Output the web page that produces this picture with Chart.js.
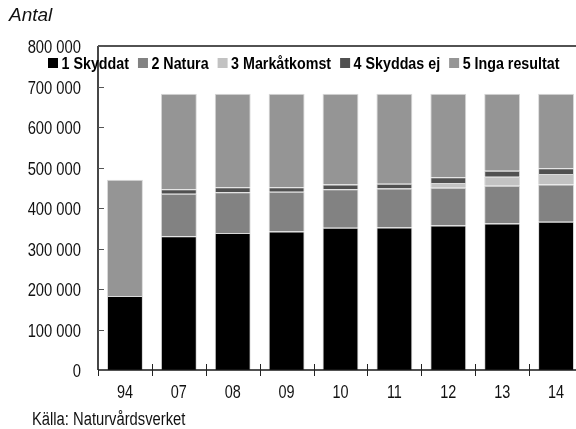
<!DOCTYPE html>
<html>
<head>
<meta charset="utf-8">
<script src="https://cdn.jsdelivr.net/npm/chart.js@4/dist/chart.umd.min.js"></script>
<style>
  html, body { margin: 0; padding: 0; background: #fff; overflow: hidden; }
  #wrap { position: relative; width: 600px; height: 429px; }
</style>
</head>
<body>
<div id="wrap"><canvas id="chart"></canvas></div>
<script>
const years = ['94', '07', '08', '09', '10', '11', '12', '13', '14'];
const skyddat = [183000, 330000, 338000, 342000, 351000, 352000, 357000, 362000, 366000];
const natura = [0, 105000, 101000, 98000, 95000, 96000, 93000, 93000, 92000];
const markatkomst = [0, 0, 0, 0, 0, 0, 12000, 22000, 26000];
const skyddasEj = [0, 11000, 12000, 11000, 12000, 12000, 14000, 15000, 14000];
const ingaResultat = [287000, 236000, 231000, 231000, 224000, 222000, 206000, 190000, 184000];

const SANS = "'Liberation Sans', Arial, sans-serif";
const fmt = v => String(v).replace(/\B(?=(\d{3})+(?!\d))/g, ' ');

// Liberation Sans squeezed sideways to look like a condensed face
function narrowText(ctx, text, x, y, align, k = 0.82) {
    const w = ctx.measureText(text).width * k;
    let sx = x;
    if (align === 'right') sx = x - w;
    else if (align === 'center') sx = x - w / 2;
    ctx.save();
    ctx.translate(sx, y);
    ctx.scale(k, 1);
    ctx.fillText(text, 0, 0);
    ctx.restore();
    return w;
}

const frame = {
    id: 'frame',
    afterDraw(chart) {
        const { ctx, chartArea: a, scales: { x, y } } = chart;
        ctx.save();
        ctx.strokeStyle = '#1a1a1a';
        ctx.lineWidth = 1.6;
        ctx.beginPath();
        ctx.moveTo(a.left, a.top); ctx.lineTo(a.right + 20, a.top);
        ctx.moveTo(a.left, a.top); ctx.lineTo(a.left, a.bottom);
        ctx.moveTo(a.left, a.bottom); ctx.lineTo(a.right + 20, a.bottom);
        ctx.stroke();

        // y ticks, pointing inward, and their labels
        ctx.lineWidth = 1;
        ctx.textBaseline = 'alphabetic';
        ctx.font = '18px ' + SANS;
        y.ticks.forEach((t, i) => {
            const py = Math.round(y.getPixelForTick(i)) + 0.5;
            if (t.value !== 0) {
                ctx.strokeStyle = '#555';
                ctx.beginPath(); ctx.moveTo(a.left, py); ctx.lineTo(a.left + 6, py); ctx.stroke();
            }
            ctx.fillStyle = '#111';
            narrowText(ctx, t.label, 81, py + 6.5, 'right');
        });

        // x ticks at category boundaries, crossing the axis
        ctx.strokeStyle = '#222';
        const half = (x.getPixelForTick(1) - x.getPixelForTick(0)) / 2;
        ctx.font = '19px ' + SANS;
        x.ticks.forEach((t, i) => {
            const px = Math.round(x.getPixelForTick(i) - half) + 0.5;
            ctx.beginPath();
            ctx.moveTo(px, a.bottom - (i === 0 ? 0 : 6));
            ctx.lineTo(px, a.bottom + 6);
            ctx.stroke();
            narrowText(ctx, t.label, x.getPixelForTick(i), 398, 'center', 0.76);
        });

        // legend
        ctx.font = 'bold 17px ' + SANS;
        let lx = 48;
        chart.data.datasets.forEach(ds => {
            ctx.fillStyle = ds.backgroundColor;
            ctx.fillRect(lx, 58, 10, 10);
            lx += 13.5;
            ctx.fillStyle = '#000';
            lx += narrowText(ctx, ds.label, lx, 69, 'left', 0.84) + 9;
        });

        // titles
        ctx.fillStyle = '#111';
        ctx.font = 'italic 19px ' + SANS;
        ctx.fillText('Antal', 9, 21);
        ctx.font = '18px ' + SANS;
        narrowText(ctx, 'Källa: Naturvårdsverket', 32, 425);
        ctx.restore();
    }
};

const edge = { left: 1, right: 1, top: 1, bottom: 0 };
const mk = (label, data, color) => ({
    label, data, backgroundColor: color,
    borderColor: '#d9d9d9', borderWidth: edge, borderSkipped: false
});

new Chart(document.getElementById('chart'), {
    type: 'bar',
    data: {
        labels: years,
        datasets: [
            mk('1 Skyddat', skyddat, '#000000'),
            mk('2 Natura', natura, '#828282'),
            mk('3 Markåtkomst', markatkomst, '#c2c2c2'),
            mk('4 Skyddas ej', skyddasEj, '#505050'),
            mk('5 Inga resultat', ingaResultat, '#959595')
        ]
    },
    options: {
        responsive: true,
        maintainAspectRatio: false,
        animation: false,
        devicePixelRatio: 1,
        layout: { padding: { top: 46, right: 17, left: 0, bottom: 0 } },
        datasets: { bar: { categoryPercentage: 1, barPercentage: 0.667 } },
        plugins: { legend: { display: false }, tooltip: { enabled: false } },
        scales: {
            x: {
                stacked: true,
                grid: { display: false },
                border: { display: false },
                ticks: { display: false },
                afterFit: s => { s.height = 59; }
            },
            y: {
                stacked: true,
                min: 0, max: 800000,
                grid: { display: false, drawTicks: false },
                border: { display: false },
                ticks: { display: false, stepSize: 100000, callback: v => fmt(v) },
                afterFit: s => { s.width = 98; }
            }
        }
    },
    plugins: [frame]
});
</script>
</body>
</html>
